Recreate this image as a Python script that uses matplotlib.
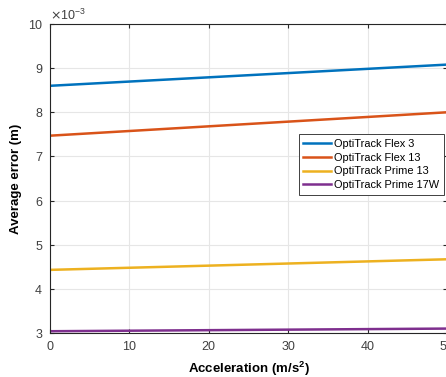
import numpy as np
from matplotlib import pyplot as plt

plt.rcParams['font.family'] = ['Liberation Sans', 'DejaVu Sans']

accel = [0, 50]
flex3 = [0.00860, 0.00908]
flex13 = [0.00747, 0.00800]
prime13 = [0.00443, 0.00467]
prime17w = [0.00304, 0.00310]

labels = ['OptiTrack Flex 3', 'OptiTrack Flex 13', 'OptiTrack Prime 13', 'OptiTrack Prime 17W']
colors = ['#0072BD', '#D95319', '#EDB120', '#7E2F8E']

fig = plt.figure(figsize=(4.46, 3.77), dpi=100)
ax = fig.add_axes([50 / 446, 1 - 333 / 377, 1 - 50 / 446 + 0.002, (333 - 24) / 377])

for ys, lab, c in zip([flex3, flex13, prime13, prime17w], labels, colors):
    ax.plot(accel, ys, color=c, lw=1.8, label=lab)

ax.set_xlim(0, 50)
ax.set_ylim(0.003, 0.010)
ax.set_xticks(np.arange(0, 51, 10))
ax.set_yticks(np.arange(3, 10.5, 1) * 1e-3)
ax.ticklabel_format(axis='y', style='sci', scilimits=(-3, -3), useMathText=True)
ax.yaxis.get_offset_text().set_fontsize(9)
ax.yaxis.get_offset_text().set_color('#404040')

ax.grid(True, color='#e6e6e6', lw=0.8)
ax.tick_params(direction='in', top=True, right=True, labelsize=9,
               colors='#262626', labelcolor='#404040', length=3)
ax.tick_params(axis='x', pad=6)
ax.tick_params(axis='y', pad=5)
for s in ax.spines.values():
    s.set_color('#262626')
    s.set_linewidth(0.8)

ax.set_xlabel('Acceleration (m/s$^\\mathregular{2}$)', fontsize=9.5, fontweight='bold', labelpad=5)
ax.set_ylabel('Average error (m)', fontsize=9.5, fontweight='bold', labelpad=4)

leg = ax.legend(loc='upper right', bbox_to_anchor=(0.997, 0.65), fontsize=7.9,
                frameon=True, fancybox=False, framealpha=1, edgecolor='#404040',
                borderpad=0.4, handlelength=2.5, labelspacing=0.35, handletextpad=0.3,
                borderaxespad=0.2)
leg.get_frame().set_linewidth(0.7)

plt.savefig('out.png', dpi=100)
